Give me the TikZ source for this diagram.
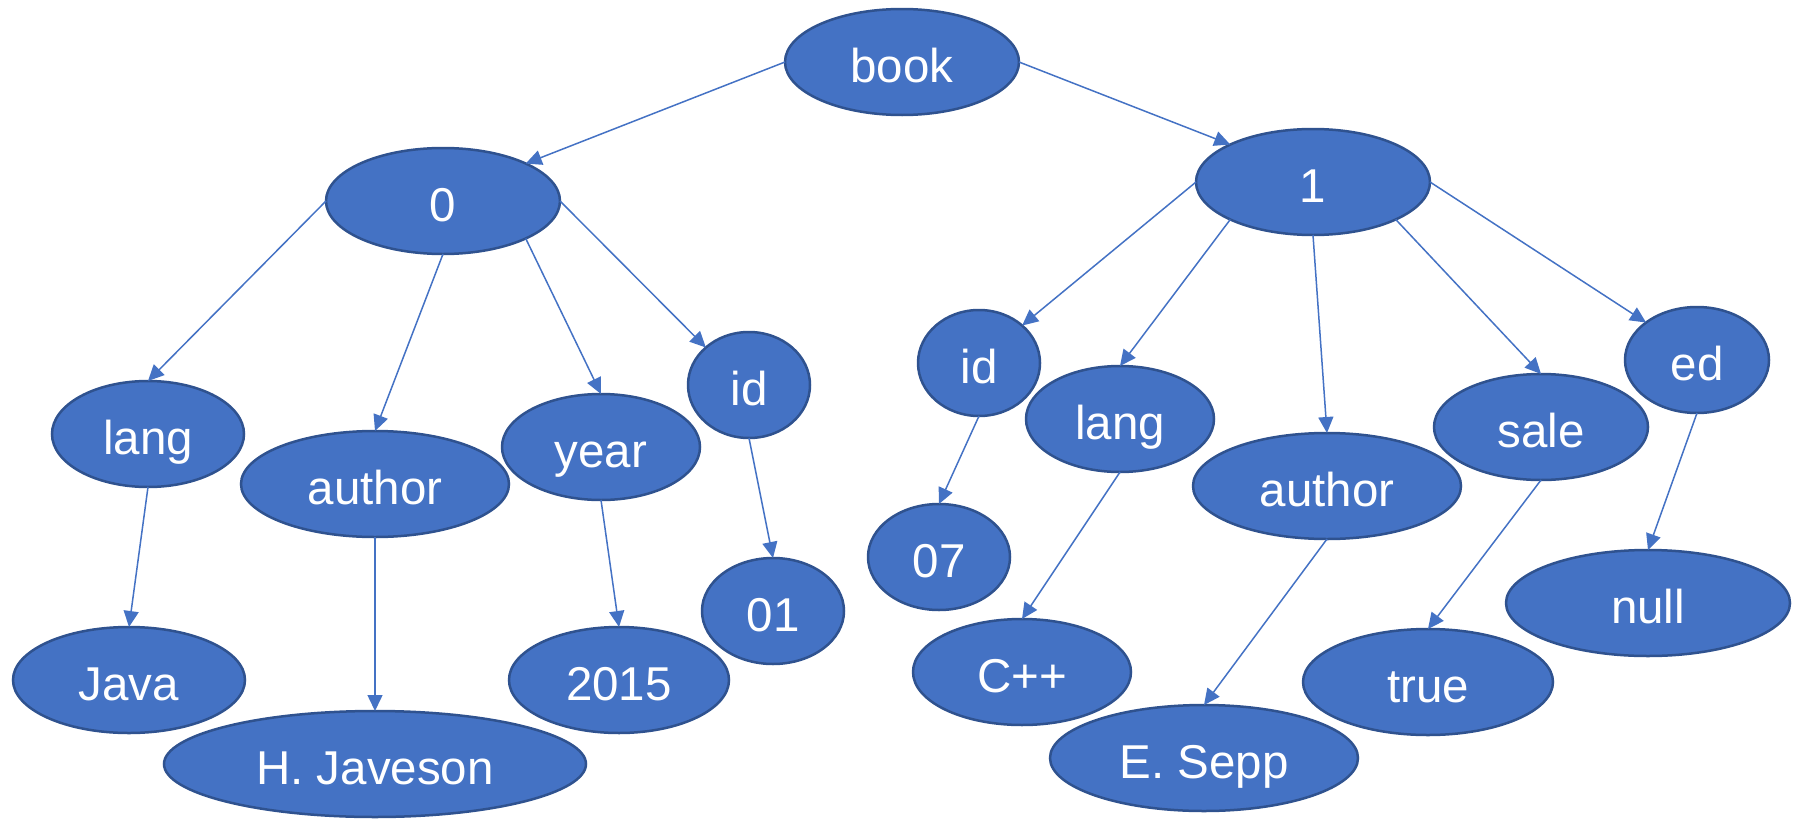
\documentclass[tikz,border=0pt]{standalone}
\usepackage{fontspec}
\setmainfont{Liberation Sans}
\usetikzlibrary{shapes.geometric,arrows.meta}
\definecolor{fillblue}{HTML}{4472C4}
\definecolor{rimblue}{HTML}{2F528F}
\begin{document}
\begin{tikzpicture}[x=1pt,y=-1pt,
  nd/.style={ellipse, draw=rimblue, line width=2.5pt, fill=fillblue, text=white,
    inner sep=0pt, outer sep=0pt, minimum height=106pt,
    font=\fontsize{47.5}{52}\selectfont, text height=49pt, text depth=9pt},
  conn/.style={draw=fillblue, line width=1.5pt, -{Triangle[length=16pt,width=15pt]}}]
\useasboundingbox (0,0) rectangle (1799,819);
% level 0
\node[nd, minimum width=234pt] (book) at (902,62) {book};
% level 1
\node[nd, minimum width=234pt] (n0) at (443,201) {0};
\node[nd, minimum width=234pt] (n1) at (1313,182) {1};
% level 2 left
\node[nd, minimum width=192pt] (langL) at (148,434) {lang};
\node[nd, minimum width=268pt] (authL) at (375,484) {author};
\node[nd, minimum width=198pt] (year) at (601,447) {year};
\node[nd, minimum width=122pt] (idL) at (749,385) {id};
% level 3 left
\node[nd, minimum width=232pt] (java) at (129,680) {Java};
\node[nd, minimum width=422pt] (hj) at (375,764) {H. Javeson};
\node[nd, minimum width=220pt] (y2015) at (619,680) {2015};
\node[nd, minimum width=142pt] (v01) at (773,611) {01};
% level 2 right
\node[nd, minimum width=122pt] (idR) at (979,363) {id};
\node[nd, minimum width=188pt] (langR) at (1120,419) {lang};
\node[nd, minimum width=268pt] (authR) at (1327,486) {author};
\node[nd, minimum width=214pt] (sale) at (1541,427) {sale};
\node[nd, minimum width=144pt] (ed) at (1697,360) {ed};
% level 3 right
\node[nd, minimum width=142pt] (v07) at (939,557) {07};
\node[nd, minimum width=218pt] (cpp) at (1022,672) {C++};
\node[nd, minimum width=308pt] (esepp) at (1204,758) {E. Sepp};
\node[nd, minimum width=250pt] (true) at (1428,682) {true};
\node[nd, minimum width=284pt] (null) at (1648,603) {null};
% connectors
\draw[conn] (book.west) -- (n0.north east);
\draw[conn] (book.east) -- (n1.north west);
\draw[conn] (n0.west) -- (langL.north);
\draw[conn] (n0.south) -- (authL.north);
\draw[conn] (n0.south east) -- (year.north);
\draw[conn] (n0.east) -- (idL.north west);
\draw[conn] (langL.south) -- (java.north);
\draw[conn] (authL.south) -- (hj.north);
\draw[conn] (year.south) -- (y2015.north);
\draw[conn] (idL.south) -- (v01.north);
\draw[conn] (n1.west) -- (idR.north east);
\draw[conn] (n1.south west) -- (langR.north);
\draw[conn] (n1.south) -- (authR.north);
\draw[conn] (n1.south east) -- (sale.north);
\draw[conn] (n1.east) -- (ed.north west);
\draw[conn] (idR.south) -- (v07.north);
\draw[conn] (langR.south) -- (cpp.north);
\draw[conn] (authR.south) -- (esepp.north);
\draw[conn] (sale.south) -- (true.north);
\draw[conn] (ed.south) -- (null.north);
\end{tikzpicture}
\end{document}
